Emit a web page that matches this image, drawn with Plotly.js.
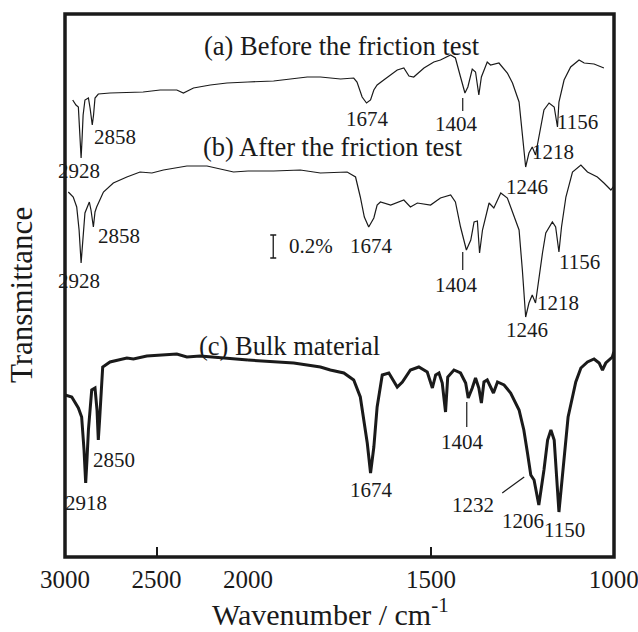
<!DOCTYPE html>
<html>
<head>
<meta charset="utf-8">
<script src="https://cdn.plot.ly/plotly-3.0.1.min.js"></script>
<style>html,body{margin:0;padding:0;background:#fff;}#chart{width:638px;height:632px;}</style>
</head>
<body>
<div id="chart"></div>
<script>
// (a) Before the friction test — wavenumber (cm-1) and transmittance (arbitrary, offset units)
const wnA = [2958,2940,2927,2918,2912,2907,2901,2891,2872,2863,2851,2844,2836,2818,2754,2573,2480,2389,2353,2298,2206,2115,2000,
  1930,1838,1802,1747,1711,1702,1688,1676,1665,1656,1647,1629,1592,1574,1560,1547,1519,1492,1474,1446,1433,1419,1407,1399,1387,1378,1369,1362,1346,1337,1314,1291,1277,1259,1250,1241,1232,1223,1214,1205,1191,1177,1163,1154,1150,1136,1118,1095,1081,1054,1027];
const tA = [457,452,450,417,399,417,442,457,459,449,432,442,459,463,464,465,467,467,464,469,472,474,475,
  476,480,480,478,479,475,460,454,457,467,472,477,487,489,481,480,489,495,497,502,499,480,464,470,488,485,462,480,495,492,494,484,474,455,424,390,404,410,402,420,447,454,450,430,455,477,490,497,494,493,489];

// (b) After the friction test
const wnB = [2982,2955,2936,2923,2912,2901,2891,2867,2858,2845,2836,2827,2790,2736,2662,2590,2525,2462,2334,2224,2170,2079,2000,
  1930,1857,1802,1729,1706,1693,1682,1670,1656,1647,1638,1610,1574,1556,1537,1501,1474,1446,1433,1419,1403,1391,1382,1373,1367,1359,1341,1328,1309,1291,1273,1259,1250,1241,1232,1223,1214,1205,1195,1186,1168,1159,1150,1143,1131,1113,1090,1072,1045,1027,1008,1000];
const tB = [365,360,350,327,294,322,344,355,347,330,345,350,365,374,380,385,384,387,391,391,389,385,386,
  386,387,384,385,380,360,340,330,339,352,355,352,357,350,354,352,359,362,355,330,307,317,335,336,304,327,354,349,364,359,340,327,287,240,254,262,254,280,304,324,335,330,305,330,360,385,392,385,380,374,367,371];

// (c) Bulk material
const wnC = [3000,2963,2927,2909,2896,2887,2880,2872,2854,2836,2825,2818,2811,2805,2794,2754,2662,2626,2553,2389,2334,2261,2115,2000,
  1966,1875,1802,1775,1738,1711,1693,1684,1674,1665,1656,1647,1633,1615,1592,1578,1556,1533,1510,1496,1487,1478,1469,1460,1454,1437,1419,1405,1398,1387,1378,1369,1362,1355,1346,1329,1318,1300,1282,1259,1246,1236,1227,1218,1205,1191,1181,1172,1163,1150,1136,1125,1113,1104,1090,1072,1054,1040,1031,1022,1004,1000];
const tC = [162,160,149,140,107,74,97,127,167,169,147,117,137,160,190,195,199,198,201,203,200,201,199,197,
  196,194,190,187,184,177,160,140,114,84,110,150,182,184,170,175,187,190,185,169,182,184,174,145,180,187,184,174,159,169,179,169,154,175,177,164,175,172,164,147,127,104,82,77,52,87,117,127,117,45,100,140,160,175,189,195,198,194,187,194,200,205];

// Text labels
const seriesNames = ["(a) Before the friction test", "(b) After the friction test", "(c) Bulk material"];
const seriesNamePos = [[2250, 511.5], [2256, 410.5], [2276, 211.5]];
const peakText = ["2928","2858","1674","1404","1156","1218","1246",
                  "2928","2858","1674","1404","1156","1218","1246",
                  "2918","2850","1674","1404","1232","1206","1150"];
const peakX = [2925,2726,1673,1430,1098,1166,1238,
               2923,2707,1662,1430,1093,1152,1238,
               2885,2732,1662,1415,1385,1248,1135];
const peakY = [386,420,438.5,433,435,405,370.5,
               276.5,321.5,311.5,272.5,295,254.5,227.5,
               54.5,97,67.5,115,52.5,36,27];
// marker lines pointing to peaks: [w0, t0, w1, t1]
const leaders = [[1413,459,1413,446],[1413,305,1413,287],[1402,155,1402,130],[1305,64,1245,80]];
// scale bar (0.2 %)
const scaleW = [1931], scaleT = [310.5], scaleHalf = [11.5];
// axis ticks
const ticksHigh = [3000, 2500, 2000], ticksLow = [1500, 1000];

const serif = "Liberation Serif, Times New Roman, serif";
const ink = "#1a1a1a";

function part(w, t, left) {
  const x = [], y = [];
  for (let i = 0; i < w.length; i++) {
    if (left ? w[i] >= 2000 : w[i] <= 2000) { x.push(w[i]); y.push(t[i]); }
  }
  return {x, y};
}

const traces = [];
[[wnA, tA, 1.2], [wnB, tB, 1.2], [wnC, tC, 3]].forEach(([w, t, lw]) => {
  [true, false].forEach(left => {
    const p = part(w, t, left);
    traces.push({x: p.x, y: p.y, xaxis: left ? 'x' : 'x2', yaxis: 'y', type: 'scatter', mode: 'lines',
      line: {color: ink, width: lw, shape: 'linear'}, showlegend: false, hoverinfo: 'skip', cliponaxis: false});
  });
});
traces.push({x: scaleW, y: scaleT, xaxis: 'x2', yaxis: 'y', type: 'scatter', mode: 'markers',
  marker: {size: 1, color: 'rgba(0,0,0,0)'},
  error_y: {type: 'data', array: scaleHalf, visible: true, color: ink, thickness: 1.3, width: 3},
  showlegend: false, hoverinfo: 'skip'});

const annotations = [];
seriesNames.forEach((s, i) => annotations.push({text: s, x: seriesNamePos[i][0], y: seriesNamePos[i][1],
  xref: 'x', yref: 'y', xanchor: 'left', yanchor: 'middle', showarrow: false,
  font: {family: serif, size: 26.5, color: ink}}));
peakText.forEach((s, i) => annotations.push({text: s, x: peakX[i], y: peakY[i],
  xref: peakX[i] >= 2000 ? 'x' : 'x2', yref: 'y', xanchor: 'center', yanchor: 'middle', showarrow: false,
  font: {family: serif, size: 21, color: ink}}));
annotations.push({text: "0.2%", x: 1827, y: 311.5, xref: 'x2', yref: 'y', showarrow: false,
  xanchor: 'center', yanchor: 'middle', font: {family: serif, size: 21, color: ink}});
annotations.push({text: "Transmittance", x: -0.080, y: 0.4825, xref: 'paper', yref: 'paper', textangle: -90,
  showarrow: false, xanchor: 'center', yanchor: 'middle', font: {family: serif, size: 31, color: ink}});
annotations.push({text: "Wavenumber / cm<sup>-1</sup>", x: 0.4827, y: -0.102, xref: 'paper', yref: 'paper',
  showarrow: false, xanchor: 'center', yanchor: 'middle', font: {family: serif, size: 30, color: ink}});

const shapes = leaders.map(l => ({type: 'line', xref: 'x2', yref: 'y', x0: l[0], y0: l[1], x1: l[2], y1: l[3],
  line: {color: ink, width: 1.2}}));
shapes.push({type: 'rect', xref: 'paper', yref: 'paper', x0: 0, x1: 1, y0: 0, y1: 1, line: {color: ink, width: 3.5}});

const axisCommon = {showgrid: false, zeroline: false, showline: false, ticks: 'inside', ticklen: 10, tickwidth: 2,
  tickcolor: ink, tickfont: {family: serif, size: 25, color: ink}, ticklabeloverflow: 'allow',
  ticklabelstandoff: 5, fixedrange: true};

const layout = {
  width: 638, height: 632,
  margin: {l: 65, r: 24, t: 14, b: 75},
  paper_bgcolor: '#fff', plot_bgcolor: '#fff',
  xaxis: Object.assign({}, axisCommon, {domain: [0, 1/3], range: [3000, 2000], tickmode: 'array',
    tickvals: ticksHigh, ticktext: ticksHigh.map(String), anchor: 'y'}),
  xaxis2: Object.assign({}, axisCommon, {domain: [1/3, 1], range: [2000, 999.5], tickmode: 'array',
    tickvals: ticksLow, ticktext: ticksLow.map(String), anchor: 'y'}),
  yaxis: {range: [0, 543], showgrid: false, zeroline: false, showline: false, showticklabels: false, ticks: '',
    anchor: 'x', fixedrange: true},
  annotations, shapes, showlegend: false
};

Plotly.newPlot('chart', traces, layout, {staticPlot: true, displayModeBar: false});
</script>
</body>
</html>
